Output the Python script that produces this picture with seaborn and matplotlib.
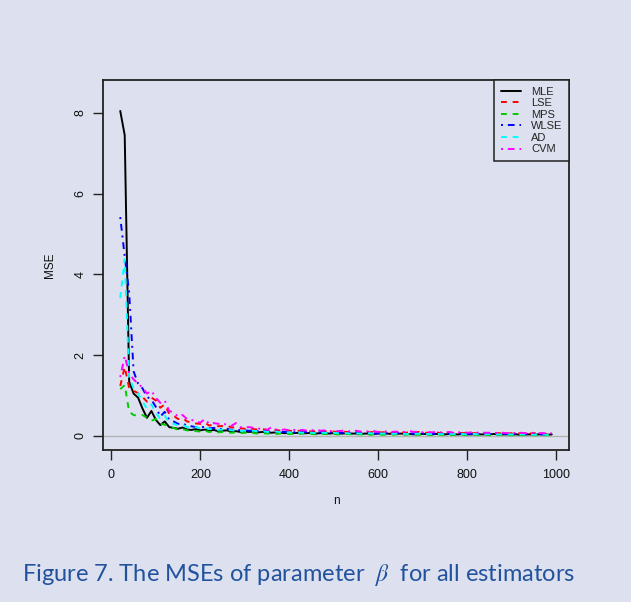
import matplotlib
matplotlib.use("Agg")
import matplotlib.pyplot as plt
import seaborn as sns
import pandas as pd

n = list(range(20, 1000, 10))

MLE = [8.05, 7.45, 1.35, 1.05, 0.95, 0.68, 0.45, 0.62, 0.40, 0.27,
       0.36, 0.22, 0.20, 0.18, 0.21, 0.16, 0.15, 0.17, 0.14, 0.16,
       0.13, 0.15, 0.12, 0.13, 0.14, 0.11, 0.12, 0.10, 0.11, 0.10,
       0.11, 0.09, 0.10, 0.09, 0.08, 0.09, 0.08, 0.07, 0.08, 0.07,
       0.08, 0.07, 0.07, 0.08, 0.06, 0.07, 0.07, 0.06, 0.07, 0.06,
       0.06, 0.07, 0.06, 0.06, 0.05, 0.06, 0.06, 0.05, 0.06, 0.05,
       0.06, 0.05, 0.05, 0.06, 0.05, 0.05, 0.04, 0.05, 0.05, 0.05,
       0.04, 0.05, 0.05, 0.04, 0.05, 0.04, 0.04, 0.05, 0.04, 0.04,
       0.05, 0.04, 0.04, 0.04, 0.05, 0.04, 0.04, 0.04, 0.04, 0.04,
       0.03, 0.04, 0.04, 0.03, 0.04, 0.04, 0.03, 0.04]

LSE = [1.24, 1.71, 1.19, 1.12, 1.06, 0.97, 0.85, 0.95, 0.88, 0.70,
       0.78, 0.55, 0.50, 0.42, 0.45, 0.36, 0.34, 0.31, 0.30, 0.33,
       0.26, 0.28, 0.24, 0.25, 0.26, 0.21, 0.22, 0.19, 0.18, 0.19,
       0.17, 0.16, 0.17, 0.15, 0.14, 0.15, 0.13, 0.14, 0.13, 0.12,
       0.13, 0.12, 0.13, 0.11, 0.12, 0.11, 0.12, 0.10, 0.11, 0.10,
       0.11, 0.10, 0.10, 0.11, 0.09, 0.10, 0.09, 0.10, 0.09, 0.09,
       0.10, 0.08, 0.09, 0.09, 0.08, 0.09, 0.08, 0.10, 0.08, 0.08,
       0.08, 0.09, 0.07, 0.08, 0.08, 0.07, 0.08, 0.07, 0.08, 0.07,
       0.07, 0.08, 0.07, 0.07, 0.06, 0.07, 0.07, 0.06, 0.07, 0.06,
       0.07, 0.06, 0.06, 0.07, 0.06, 0.06, 0.05, 0.06]

MPS = [1.16, 1.26, 0.60, 0.52, 0.50, 0.52, 0.45, 0.38, 0.42, 0.30,
       0.28, 0.22, 0.20, 0.15, 0.17, 0.14, 0.13, 0.12, 0.11, 0.13,
       0.10, 0.11, 0.09, 0.10, 0.09, 0.08, 0.09, 0.07, 0.08, 0.07,
       0.07, 0.06, 0.07, 0.06, 0.06, 0.05, 0.06, 0.06, 0.05, 0.05,
       0.05, 0.06, 0.05, 0.05, 0.04, 0.05, 0.05, 0.04, 0.05, 0.04,
       0.04, 0.05, 0.04, 0.04, 0.04, 0.04, 0.03, 0.04, 0.04, 0.03,
       0.04, 0.03, 0.04, 0.03, 0.03, 0.04, 0.03, 0.03, 0.03, 0.03,
       0.03, 0.03, 0.03, 0.03, 0.02, 0.03, 0.03, 0.03, 0.02, 0.03,
       0.03, 0.02, 0.03, 0.02, 0.02, 0.03, 0.02, 0.02, 0.02, 0.02,
       0.02, 0.02, 0.02, 0.02, 0.02, 0.02, 0.02, 0.02]

WLSE = [5.42, 4.45, 3.55, 1.60, 1.30, 1.18, 0.97, 0.90, 0.72, 0.48,
        0.60, 0.40, 0.36, 0.30, 0.31, 0.26, 0.24, 0.22, 0.21, 0.23,
        0.19, 0.20, 0.17, 0.18, 0.18, 0.15, 0.16, 0.14, 0.14, 0.13,
        0.14, 0.12, 0.13, 0.11, 0.11, 0.12, 0.10, 0.10, 0.10, 0.09,
        0.10, 0.09, 0.10, 0.09, 0.08, 0.09, 0.09, 0.08, 0.09, 0.08,
        0.08, 0.08, 0.07, 0.08, 0.07, 0.07, 0.08, 0.06, 0.07, 0.07,
        0.07, 0.06, 0.07, 0.07, 0.06, 0.06, 0.06, 0.07, 0.06, 0.06,
        0.05, 0.06, 0.06, 0.05, 0.06, 0.05, 0.05, 0.06, 0.05, 0.05,
        0.06, 0.05, 0.05, 0.05, 0.05, 0.04, 0.05, 0.05, 0.04, 0.05,
        0.04, 0.05, 0.04, 0.04, 0.05, 0.04, 0.04, 0.04]

AD = [3.42, 4.38, 1.45, 1.18, 1.05, 0.85, 0.68, 0.78, 0.58, 0.42,
      0.50, 0.34, 0.30, 0.26, 0.28, 0.22, 0.21, 0.22, 0.19, 0.21,
      0.17, 0.19, 0.15, 0.16, 0.17, 0.14, 0.14, 0.12, 0.13, 0.12,
      0.13, 0.11, 0.12, 0.10, 0.10, 0.11, 0.09, 0.09, 0.09, 0.08,
      0.09, 0.08, 0.09, 0.08, 0.07, 0.08, 0.08, 0.07, 0.08, 0.07,
      0.07, 0.07, 0.06, 0.07, 0.06, 0.06, 0.07, 0.06, 0.06, 0.06,
      0.06, 0.05, 0.06, 0.06, 0.05, 0.05, 0.05, 0.06, 0.05, 0.05,
      0.05, 0.05, 0.05, 0.04, 0.05, 0.05, 0.04, 0.05, 0.04, 0.05,
      0.05, 0.04, 0.04, 0.05, 0.04, 0.04, 0.04, 0.04, 0.04, 0.04,
      0.04, 0.04, 0.04, 0.03, 0.04, 0.04, 0.03, 0.04]

CVM = [1.46, 1.98, 1.55, 1.40, 1.30, 1.20, 1.05, 1.12, 0.95, 0.82,
       0.88, 0.62, 0.58, 0.48, 0.52, 0.42, 0.40, 0.36, 0.33, 0.42,
       0.30, 0.32, 0.30, 0.32, 0.27, 0.25, 0.32, 0.22, 0.21, 0.22,
       0.20, 0.18, 0.19, 0.15, 0.22, 0.16, 0.15, 0.16, 0.14, 0.15,
       0.14, 0.15, 0.13, 0.14, 0.16, 0.13, 0.14, 0.12, 0.13, 0.12,
       0.13, 0.12, 0.11, 0.13, 0.11, 0.12, 0.11, 0.12, 0.10, 0.11,
       0.11, 0.10, 0.11, 0.09, 0.10, 0.12, 0.10, 0.11, 0.09, 0.10,
       0.09, 0.10, 0.09, 0.09, 0.10, 0.08, 0.09, 0.09, 0.08, 0.09,
       0.08, 0.09, 0.08, 0.08, 0.07, 0.08, 0.08, 0.07, 0.08, 0.07,
       0.08, 0.07, 0.07, 0.08, 0.07, 0.07, 0.06, 0.07]

estimators = ["MLE", "LSE", "MPS", "WLSE", "AD", "CVM"]
series = [MLE, LSE, MPS, WLSE, AD, CVM]
colors = ["#000000", "#ff0000", "#00cd00", "#0000ff", "#00ffff", "#ff00ff"]
dash_styles = [None, (3, 3), (3, 3), (1, 2.5, 3.5, 2.5), (3, 3), (1, 2.5, 3.5, 2.5)]

x_ticks = [0, 200, 400, 600, 800, 1000]
y_ticks = [0, 2, 4, 6, 8]
caption = r"Figure 7. The MSEs of parameter  $\beta$  for all estimators"

BG = "#dde1ef"
sns.set_theme(style="white")
plt.rcParams["font.family"] = ["Liberation Sans", "DejaVu Sans"]
plt.rcParams["mathtext.fontset"] = "stix"

fig = plt.figure(figsize=(6.31, 6.02), dpi=100, facecolor=BG)
ax = fig.add_axes([103 / 631, 1 - 450 / 602, 466 / 631, 370 / 602])
ax.set_facecolor(BG)

ax.axhline(0, color="#b4b4b4", lw=1.0, zorder=1)

for name, vals, col, ds in zip(estimators, series, colors, dash_styles):
    df = pd.DataFrame({"n": n, "MSE": vals})
    sns.lineplot(data=df, x="n", y="MSE", ax=ax, color=col, lw=1.4, label=name)
    line = ax.get_lines()[-1]
    if ds is not None:
        line.set_dashes(ds)

ax.set_xlim(-18.8, 1028.8)
ax.set_ylim(-0.347, 8.817)
ax.set_xticks(x_ticks)
ax.set_yticks(y_ticks)
ax.set_xticklabels([str(t) for t in x_ticks], fontsize=9)
ax.set_yticklabels([str(t) for t in y_ticks], fontsize=9, rotation=90, va="center")
ax.tick_params(axis="both", direction="out", length=7, width=1.0, color="#222222",
               bottom=True, left=True, labelcolor="#111111")
ax.tick_params(axis="x", pad=7)
ax.tick_params(axis="y", pad=5)
ax.set_xlabel("n", fontsize=8.5, labelpad=10, color="#111111")
ax.set_ylabel("MSE", fontsize=8.5, labelpad=13, color="#111111")
for sp in ax.spines.values():
    sp.set_visible(True)
    sp.set_color("#222222")
    sp.set_linewidth(1.3)

leg = ax.legend(loc="upper right", borderaxespad=0, fontsize=8, frameon=True,
                fancybox=False, edgecolor="#222222", facecolor=BG, framealpha=1,
                handlelength=1.8, handletextpad=0.9, labelspacing=0.14,
                borderpad=0.6)
leg.get_frame().set_linewidth(1.1)

fig.text(22 / 631, 1 - 581 / 602, caption, fontsize=17, color="#22529e",
         family=["Lato", "DejaVu Sans"], ha="left", va="baseline")

fig.savefig("out.png", dpi=100, facecolor=BG)
